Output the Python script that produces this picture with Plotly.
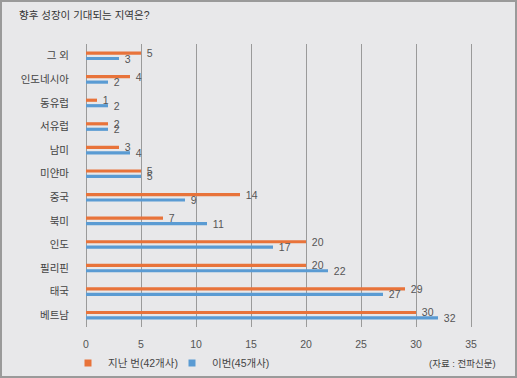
import plotly.graph_objects as go

categories = ["그 외", "인도네시아", "동유럽", "서유럽", "남미", "미얀마",
              "중국", "북미", "인도", "필리핀", "태국", "베트남"]
prev_vals = [5, 4, 1, 2, 3, 5, 14, 7, 20, 20, 29, 30]
curr_vals = [3, 2, 2, 2, 4, 5, 9, 11, 17, 22, 27, 32]
x_ticks = [0, 5, 10, 15, 20, 25, 30, 35]
series_names = ["지난 번(42개사)", "이번(45개사)"]
title_text = "향후 성장이 기대되는 지역은?"
source_text = "(자료 : 전파신문)"

ORANGE = "#e8733a"
BLUE = "#5a9bd3"
BG = "#e8e8ea"
FONT = "Liberation Sans, Noto Sans CJK KR, sans-serif"

W, H = 517, 378
ML, MR, MT, MB = 86, 24, 44, 51

fig = go.Figure()
for name, vals, col in [(series_names[0], prev_vals, ORANGE),
                        (series_names[1], curr_vals, BLUE)]:
    fig.add_trace(go.Bar(
        y=categories, x=vals, orientation="h", name=name,
        marker=dict(color=col, line=dict(width=0)),
        text=vals, texttemplate="\u00a0\u00a0%{x}", textposition="outside",
        textfont=dict(size=10.5, color="#555555", family=FONT),
        constraintext="none", cliponaxis=False, showlegend=False,
        hoverinfo="skip",
    ))
    fig.add_trace(go.Scatter(
        x=[None], y=[None], mode="markers", name=name,
        marker=dict(symbol="square", size=7, color=col),
        showlegend=True, hoverinfo="skip",
    ))

pw = W - ML - MR
ph = H - MT - MB


def px_x(p):
    return (p - ML) / pw


def px_y(p):
    return (H - MB - p) / ph


fig.update_layout(
    width=W, height=H,
    margin=dict(l=ML, r=MR, t=MT, b=MB, autoexpand=False),
    paper_bgcolor=BG, plot_bgcolor=BG,
    barmode="group", bargap=0.535, bargroupgap=0.42,
    font=dict(family=FONT, size=10.5, color="#444444"),
    xaxis=dict(range=[0, 37], tickvals=x_ticks, showgrid=True,
               gridcolor="#9a9a9a", gridwidth=1.3, zeroline=True,
               zerolinecolor="#9a9a9a", zerolinewidth=1.3,
               showline=False, ticks="", ticklabelstandoff=9,
               tickfont=dict(size=10.5, color="#555555")),
    yaxis=dict(autorange="reversed", showgrid=False, ticks="",
               ticklabelstandoff=16, tickfont=dict(size=10.5, color="#444444")),
    legend=dict(orientation="h", x=px_x(68), xanchor="left",
                y=px_y(363), yanchor="middle", entrywidth=59,
                bgcolor="rgba(0,0,0,0)", font=dict(size=10.5, color="#444444"),
                itemwidth=30, traceorder="normal"),
    annotations=[
        dict(text=title_text, xref="paper", yref="paper", x=px_x(17), y=px_y(15),
             xanchor="left", yanchor="middle", showarrow=False,
             font=dict(size=10.5, color="#333333", family=FONT)),
        dict(text=source_text, xref="paper", yref="paper", x=px_x(498), y=px_y(363),
             xanchor="right", yanchor="middle", showarrow=False,
             font=dict(size=9.5, color="#444444", family=FONT)),
    ],
    shapes=[
        dict(type="rect", xref="paper", yref="paper",
             x0=px_x(1), x1=px_x(W - 1), y0=px_y(1), y1=px_y(H - 1),
             line=dict(color="#9a9a9a", width=2), layer="below"),
    ],
)

fig.write_html(
    "out.html",
    config={"displayModeBar": False},
    post_script="document.body.style.margin='0';document.body.style.overflow='hidden';",
)
